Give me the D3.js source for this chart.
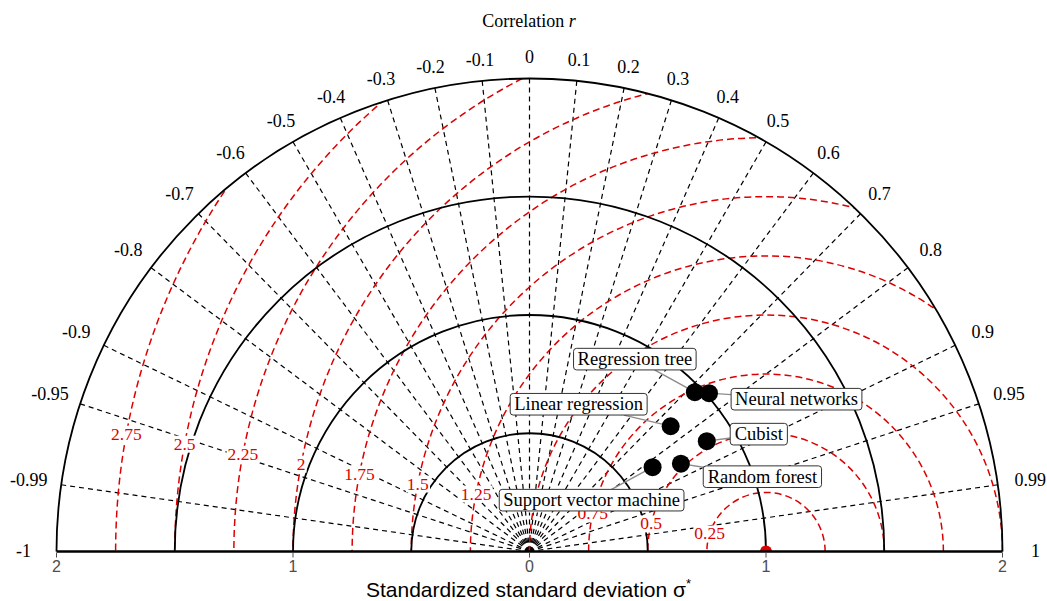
<!DOCTYPE html>
<html><head><meta charset="utf-8">
<script src="https://cdn.jsdelivr.net/npm/d3@7"></script>
<style>body{margin:0;background:#fff} svg{display:block}</style>
</head><body><svg id="chart" width="1047" height="601"></svg>
<script>
// ---------------- data ----------------
const sdArcs = [0.5, 1, 1.5, 2];
const corTicks = [-1,-0.99,-0.95,-0.9,-0.8,-0.7,-0.6,-0.5,-0.4,-0.3,-0.2,-0.1,0,0.1,0.2,0.3,0.4,0.5,0.6,0.7,0.8,0.9,0.95,0.99,1];
const corTickLabels = ["-1","-0.99","-0.95","-0.9","-0.8","-0.7","-0.6","-0.5","-0.4","-0.3","-0.2","-0.1","0","0.1","0.2","0.3","0.4","0.5","0.6","0.7","0.8","0.9","0.95","0.99","1"];
const rmsTicks = [0.25,0.5,0.75,1,1.25,1.5,1.75,2,2.25,2.5,2.75];
const rmsTickLabels = ["0.25","0.5","0.75","1","1.25","1.5","1.75","2","2.25","2.5","2.75"];
const sdAxisTicks = [-2,-1,0,1,2];
const sdAxisLabels = ["2","1","0","1","2"];
const models = ["Regression tree","Neural networks","Linear regression","Cubist","Random forest","Support vector machine"];
const modelSd  = [0.971, 1.012, 0.798, 0.883, 0.740, 0.631];
const modelCor = [0.720, 0.750, 0.748, 0.849, 0.865, 0.825];
const refSd = 1;

// ---------------- layout ----------------
const cx = 529.5, cy = 551.5, R2 = 473;
const svg = d3.select("#chart");
const r = d3.scaleLinear().domain([0, 2]).range([0, R2]);
const x = d3.scaleLinear().domain([-2, 2]).range([cx - R2, cx + R2]);
function pt(sd, cor) { const a = Math.acos(cor); return [cx + r(sd) * Math.cos(a), cy - r(sd) * Math.sin(a)]; }

const serif = "'Liberation Serif','Times New Roman',serif";
const sans = "'Liberation Sans',Arial,sans-serif";

// clip: upper half disc of radius 2
const defs = svg.append("defs");
defs.append("clipPath").attr("id", "half")
  .append("path").attr("d", () => { const p = d3.path(); p.moveTo(cx - R2, cy); p.arc(cx, cy, R2, Math.PI, 2 * Math.PI); p.closePath(); return p.toString(); });

// correlation dashed lines
svg.append("g").selectAll("line")
  .data(corTicks.filter(c => Math.abs(c) < 1)).join("line")
  .attr("x1", cx).attr("y1", cy)
  .attr("x2", d => pt(2, d)[0]).attr("y2", d => pt(2, d)[1])
  .attr("stroke", "#000").attr("stroke-width", 1.2).attr("stroke-dasharray", "5,4");

// RMS dashed circles
svg.append("g").attr("clip-path", "url(#half)").selectAll("path")
  .data(rmsTicks).join("path")
  .attr("d", d => { const p = d3.path(); p.moveTo(x(refSd) + r(d), cy); p.arc(x(refSd), cy, r(d), 0, -Math.PI, true); return p.toString(); })
  .attr("fill", "none").attr("stroke", "#dd0000").attr("stroke-width", 1.5).attr("stroke-dasharray", "7,4");

// SD solid arcs
svg.append("g").selectAll("path")
  .data(sdArcs).join("path")
  .attr("d", d => { const p = d3.path(); p.moveTo(cx + r(d), cy); p.arc(cx, cy, r(d), 0, -Math.PI, true); return p.toString(); })
  .attr("fill", "none").attr("stroke", "#000").attr("stroke-width", 1.8);

// RMS labels with white background
const rmsG = svg.append("g");
rmsTicks.forEach((d, i) => {
  const ang = (170.3 - 2 / d) * Math.PI / 180;
  const px = x(refSd) + r(d) * Math.cos(ang), py = cy - r(d) * Math.sin(ang);
  const g = rmsG.append("g");
  const t = g.append("text").attr("x", px).attr("y", py).attr("dy", "0.34em")
    .attr("text-anchor", "middle").attr("font-family", serif).attr("font-size", 17.5)
    .attr("fill", "#dd0000").text(rmsTickLabels[i]);
  const b = t.node().getBBox();
  g.insert("rect", "text").attr("x", b.x - 1).attr("y", b.y + 2).attr("width", b.width + 2).attr("height", b.height - 3).attr("fill", "#fff");
});

// reference point
svg.append("circle").attr("clip-path", "url(#half)").attr("cx", x(refSd)).attr("cy", cy).attr("r", 6).attr("fill", "#dd0000");

// x axis
svg.append("line").attr("x1", x(-2)).attr("x2", x(2)).attr("y1", cy).attr("y2", cy).attr("stroke", "#000").attr("stroke-width", 2.6);
const ax = svg.append("g");
ax.selectAll("line").data(sdAxisTicks).join("line")
  .attr("x1", d => x(d)).attr("x2", d => x(d)).attr("y1", cy + 1.3).attr("y2", cy + 6)
  .attr("stroke", "#4d4d4d").attr("stroke-width", 1);
ax.selectAll("text").data(sdAxisTicks).join("text")
  .attr("x", d => x(d)).attr("y", 572).attr("text-anchor", "middle")
  .attr("font-family", sans).attr("font-size", 16).attr("fill", "#4d4d4d")
  .text((d, i) => sdAxisLabels[i]);
const xt = svg.append("text").attr("x", 528.5).attr("y", 597).attr("text-anchor", "middle")
  .attr("font-family", sans).attr("font-size", 21).attr("fill", "#000");
xt.append("tspan").text("Standardized standard deviation \u03c3");
xt.append("tspan").attr("dy", -9).attr("font-size", 13).text("*");

// correlation labels
svg.append("g").selectAll("text").data(corTicks).join("text")
  .attr("x", d => { const a = Math.acos(d), R = 494 + 12 * d * d; return cx + R * Math.cos(a); })
  .attr("y", d => { const a = Math.acos(d), R = 494 + 12 * d * d; return cy - R * Math.sin(a); })
  .attr("dy", "0.32em").attr("text-anchor", "middle")
  .attr("font-family", serif).attr("font-size", 18).attr("fill", "#000")
  .text((d, i) => corTickLabels[i]);
const ct = svg.append("text").attr("x", 529).attr("y", 27.3).attr("text-anchor", "middle")
  .attr("font-family", serif).attr("font-size", 18).attr("fill", "#000");
ct.append("tspan").text("Correlation ");
ct.append("tspan").attr("font-style", "italic").text("r");

// model labels (repel-style boxes)
const nudge = [[-60, -33], [87.5, 6], [-92, -22], [52, -7], [81.5, 13], [-61, 33]];
const segG = svg.append("g"), ptG = svg.append("g"), lblG = svg.append("g");
models.forEach((m, i) => {
  const [px, py] = pt(modelSd[i], modelCor[i]);
  const lx = px + nudge[i][0], ly = py + nudge[i][1];
  const g = lblG.append("g");
  const t = g.append("text").attr("x", lx).attr("y", ly).attr("dy", "0.33em").attr("text-anchor", "middle")
    .attr("font-family", serif).attr("font-size", 18.5).attr("fill", "#000").text(m);
  const b = t.node().getBBox();
  const hw = b.width / 2 + 4, hh = 10.8;
  g.insert("rect", "text").attr("x", lx - hw).attr("y", ly - hh).attr("width", 2 * hw).attr("height", 2 * hh)
    .attr("rx", 3).attr("fill", "#fff").attr("stroke", "#333").attr("stroke-width", 1);
  const vx = px - lx, vy = py - ly;
  const tt = Math.min(hw / Math.abs(vx || 1e-9), hh / Math.abs(vy || 1e-9));
  segG.append("line").attr("x1", lx + vx * tt).attr("y1", ly + vy * tt).attr("x2", px).attr("y2", py)
    .attr("stroke", "#8c8c8c").attr("stroke-width", 1.3);
  ptG.append("circle").attr("cx", px).attr("cy", py).attr("r", 9).attr("fill", "#000");
});
</script>
</body></html>
